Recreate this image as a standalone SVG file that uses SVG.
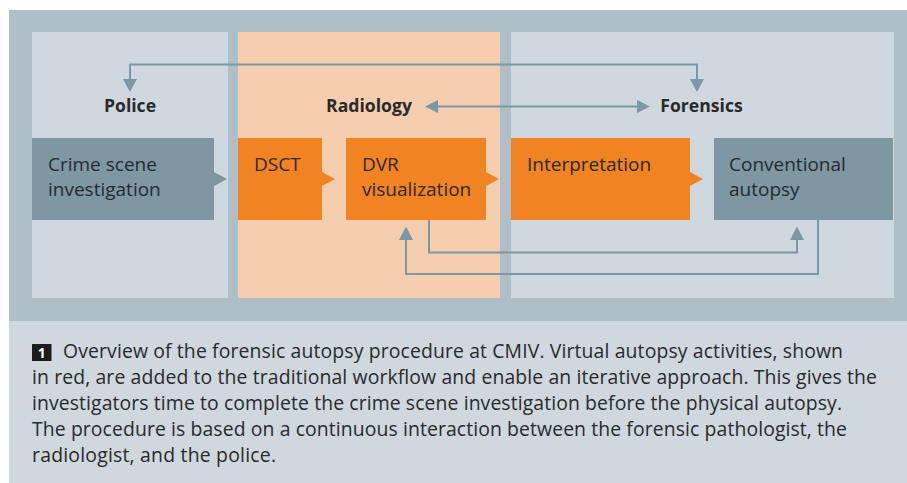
<svg xmlns="http://www.w3.org/2000/svg" width="907" height="483" viewBox="0 0 907 483">
<style>
.frame{fill:#aebfc7}
.panel{fill:#cfd8de}
.rpanel{fill:#f5ceb0}
.orange{fill:#f28322}
.grey{fill:#7d97a3}
.lbl{font-family:"Open Sans","Liberation Sans",sans-serif;font-size:19px;fill:#2a2a2a}
.hdr{font-family:"Open Sans","Liberation Sans",sans-serif;font-size:17.6px;font-weight:bold;fill:#2a2a2a}
.cap{font-family:"Open Sans","Liberation Sans",sans-serif;font-size:19.4px;fill:#2a2a2a}
.conn{fill:none;stroke:#7b98a6;stroke-width:2}
.head{fill:#7b98a6}
</style>
<rect class="frame" x="9" y="10" width="898" height="311"/>
<rect class="panel" x="9" y="321" width="898" height="162"/>
<g id="police-panel">
<rect class="panel" x="32" y="32" width="196" height="266"/>
<text class="hdr" x="130" y="112" text-anchor="middle">Police</text>
</g>
<g id="radiology-panel">
<rect class="rpanel" x="238" y="32" width="262" height="266"/>
<text class="hdr" x="369" y="112" text-anchor="middle">Radiology</text>
</g>
<g id="forensics-panel">
<rect class="panel" x="511" y="32" width="383" height="266"/>
<text class="hdr" x="701.5" y="112" text-anchor="middle">Forensics</text>
</g>
<g id="crime-scene">
<path class="grey" d="M32 138H214V172L227 179L214 186V220H32Z"/>
<text class="lbl" x="48" y="171">Crime scene</text>
<text class="lbl" x="48" y="196">investigation</text>
</g>
<g id="dsct">
<path class="orange" d="M238 138H322V172L335 179L322 186V220H238Z"/>
<text class="lbl" x="254" y="171">DSCT</text>
</g>
<g id="dvr">
<path class="orange" d="M346 138H486V172L499 179L486 186V220H346Z"/>
<text class="lbl" x="362" y="171">DVR</text>
<text class="lbl" x="362" y="196">visualization</text>
</g>
<g id="interpretation">
<path class="orange" d="M511 138H690V172L703 179L690 186V220H511Z"/>
<text class="lbl" x="527" y="171">Interpretation</text>
</g>
<g id="conventional-autopsy">
<rect class="grey" x="714" y="138" width="179" height="82"/>
<text class="lbl" x="729" y="171">Conventional</text>
<text class="lbl" x="729" y="196">autopsy</text>
</g>
<g id="connectors">
<path class="conn" d="M130 80V64.5H697V80"/>
<path class="head" d="M123 79H137L130 92Z"/>
<path class="head" d="M690 79H704L697 92Z"/>
<path class="conn" d="M437 106.5H638"/>
<path class="head" d="M425 106.5L438 100V113Z"/>
<path class="head" d="M650 106.5L637 100V113Z"/>
<path class="conn" d="M429 220V252.5H797V239"/>
<path class="head" d="M790 240H804L797 226.5Z"/>
<path class="conn" d="M818 220V274H406V239"/>
<path class="head" d="M399 240H413L406 226.5Z"/>
</g>
<g id="caption">
<rect x="32" y="344" width="19.5" height="17" fill="#1c1c1c"/>
<text x="41.7" y="358" text-anchor="middle" style="font-family:'Open Sans','Liberation Sans',sans-serif;font-size:14px;font-weight:bold;fill:#ffffff">1</text>
<text class="cap" x="63" y="358" textLength="780" lengthAdjust="spacing">Overview of the forensic autopsy procedure at CMIV. Virtual autopsy activities, shown</text>
<text class="cap" x="32" y="384" textLength="845" lengthAdjust="spacing">in red, are added to the traditional workflow and enable an iterative approach. This gives the</text>
<text class="cap" x="32" y="410" textLength="810" lengthAdjust="spacing">investigators time to complete the crime scene investigation before the physical autopsy.</text>
<text class="cap" x="32" y="436" textLength="815" lengthAdjust="spacing">The procedure is based on a continuous interaction between the forensic pathologist, the</text>
<text class="cap" x="32" y="462" textLength="244" lengthAdjust="spacing">radiologist, and the police.</text>
</g>
</svg>
